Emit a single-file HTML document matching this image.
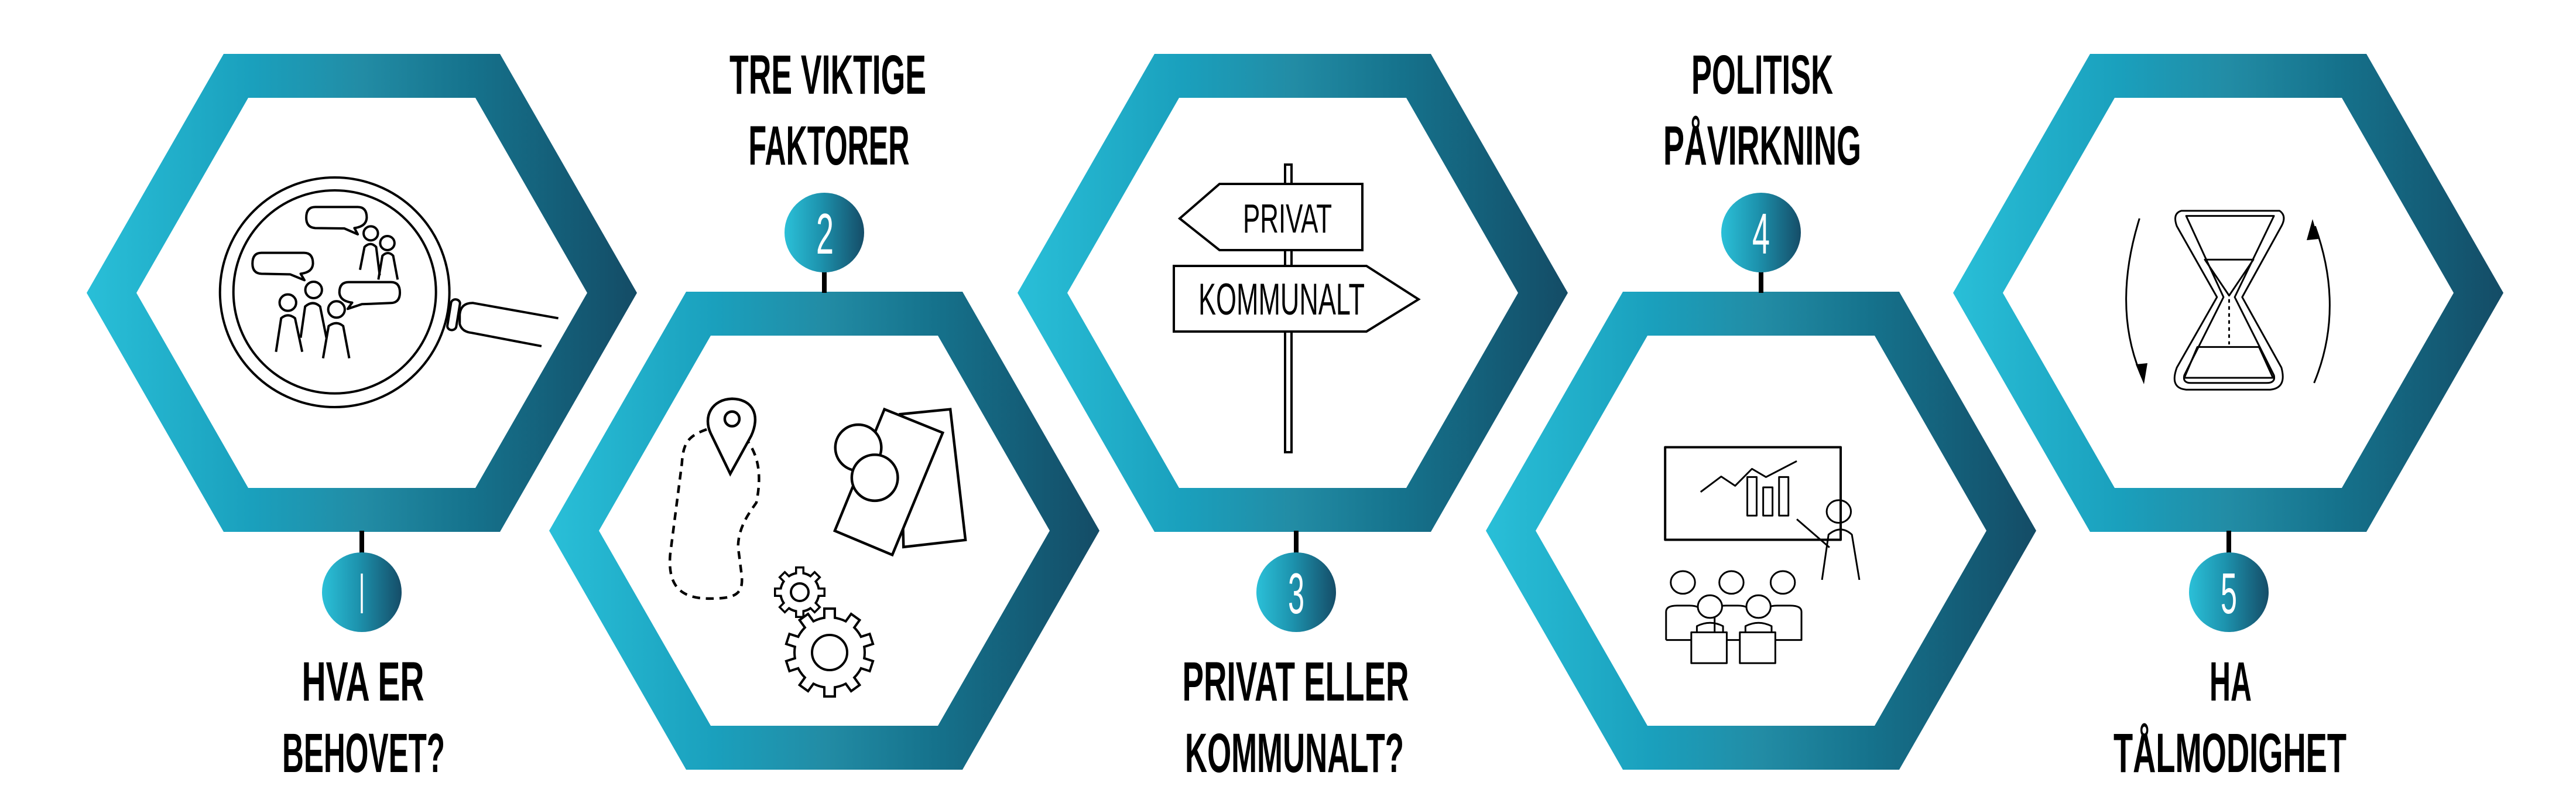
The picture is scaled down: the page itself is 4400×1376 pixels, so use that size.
<!DOCTYPE html>
<html><head><meta charset="utf-8"><style>html,body{margin:0;padding:0;background:#fff}svg{display:block}</style></head>
<body>
<svg width="4400" height="1376" viewBox="0 0 4400 1376" xmlns="http://www.w3.org/2000/svg">
<defs>
<linearGradient id="g" x1="0" y1="0" x2="1" y2="0">
<stop offset="0" stop-color="#29bfd8"/><stop offset="0.3" stop-color="#1aa0bd"/><stop offset="0.5" stop-color="#228ca5"/><stop offset="0.7" stop-color="#15728c"/><stop offset="1" stop-color="#144c66"/>
</linearGradient>
<linearGradient id="gc" x1="0" y1="0" x2="1" y2="0">
<stop offset="0" stop-color="#2bc0d8"/><stop offset="0.45" stop-color="#1d93ae"/><stop offset="1" stop-color="#154d68"/>
</linearGradient>
</defs>
<g fill="url(#g)" fill-rule="evenodd">
<path d="M148,500 L382,92 L854,92 L1088,500 L854,908 L382,908 Z M233,500 L424,167 L812,167 L1003,500 L812,833 L424,833 Z"/>
<path d="M938,906 L1172,498 L1644,498 L1878,906 L1644,1314 L1172,1314 Z M1023,906 L1214,573 L1602,573 L1793,906 L1602,1239 L1214,1239 Z"/>
<path d="M1738,500 L1972,92 L2444,92 L2678,500 L2444,908 L1972,908 Z M1823,500 L2014,167 L2402,167 L2593,500 L2402,833 L2014,833 Z"/>
<path d="M2538,906 L2772,498 L3244,498 L3478,906 L3244,1314 L2772,1314 Z M2623,906 L2814,573 L3202,573 L3393,906 L3202,1239 L2814,1239 Z"/>
<path d="M3336,500 L3570,92 L4042,92 L4276,500 L4042,908 L3570,908 Z M3421,500 L3612,167 L4000,167 L4191,500 L4000,833 L3612,833 Z"/>
</g>
<g stroke="#000" stroke-width="8">
<line x1="618" y1="906" x2="618" y2="945"/><line x1="1408" y1="463" x2="1408" y2="500"/>
<line x1="2214" y1="906" x2="2214" y2="945"/><line x1="3008" y1="463" x2="3008" y2="500"/>
<line x1="3807" y1="906" x2="3807" y2="945"/>
</g>
<g fill="url(#gc)">
<circle cx="618" cy="1011" r="68"/><circle cx="1408" cy="397" r="68"/><circle cx="2214" cy="1011" r="68"/><circle cx="3008" cy="397" r="68"/><circle cx="3807" cy="1011" r="68"/>
</g>
<g fill="#fff" font-family="Liberation Sans, sans-serif" font-size="98" text-anchor="middle">
<text x="618" y="1047" textLength="10" lengthAdjust="spacingAndGlyphs">I</text>
<text x="1409" y="433" textLength="30" lengthAdjust="spacingAndGlyphs">2</text>
<text x="2214" y="1047" textLength="28" lengthAdjust="spacingAndGlyphs">3</text>
<text x="3008" y="433" textLength="30" lengthAdjust="spacingAndGlyphs">4</text>
<text x="3807" y="1047" textLength="28" lengthAdjust="spacingAndGlyphs">5</text>
</g>
<g fill="#000" font-family="Liberation Sans, sans-serif" font-weight="bold" font-size="95" text-anchor="middle">
<text x="1414" y="160" textLength="336" lengthAdjust="spacingAndGlyphs">TRE VIKTIGE</text>
<text x="1416" y="281" textLength="275" lengthAdjust="spacingAndGlyphs">FAKTORER</text>
<text x="620" y="1196" textLength="209" lengthAdjust="spacingAndGlyphs">HVA ER</text>
<text x="621" y="1318" textLength="278" lengthAdjust="spacingAndGlyphs">BEHOVET?</text>
<text x="3010" y="160" textLength="242" lengthAdjust="spacingAndGlyphs">POLITISK</text>
<text x="3010" y="281" textLength="338" lengthAdjust="spacingAndGlyphs">PÅVIRKNING</text>
<text x="2213" y="1196" textLength="387" lengthAdjust="spacingAndGlyphs">PRIVAT ELLER</text>
<text x="2211" y="1318" textLength="374" lengthAdjust="spacingAndGlyphs">KOMMUNALT?</text>
<text x="3810" y="1196" textLength="72" lengthAdjust="spacingAndGlyphs">HA</text>
<text x="3809" y="1318" textLength="398" lengthAdjust="spacingAndGlyphs">TÅLMODIGHET</text>
</g>
<!-- icon 1 -->
<g transform="translate(370,290) scale(0.3827,0.3333)" fill="none" stroke="#000" stroke-linejoin="round" style="stroke-width:4px">
<ellipse cx="527" cy="627" rx="512" ry="588" vector-effect="non-scaling-stroke"/>
<ellipse cx="527" cy="625" rx="452" ry="520" vector-effect="non-scaling-stroke"/>
<path d="M440,190 L630,190 Q670,190 670,245 Q668,290 615,298 L630,330 L570,300 L440,298 Q400,295 400,245 Q400,190 440,190Z" vector-effect="non-scaling-stroke"/>
<path d="M200,425 L390,425 Q430,425 430,480 Q428,525 375,532 L392,565 L328,535 L200,532 Q160,530 160,480 Q160,425 200,425Z" vector-effect="non-scaling-stroke"/>
<path d="M590,575 L778,575 Q818,575 818,628 Q818,680 778,682 L648,688 L585,712 L605,680 Q550,672 548,628 Q548,575 590,575Z" vector-effect="non-scaling-stroke"/>
<ellipse cx="688" cy="325" rx="32" ry="36" vector-effect="non-scaling-stroke"/>
<path d="M640,512 L660,395 Q687,365 712,395 L728,540" vector-effect="non-scaling-stroke"/>
<ellipse cx="762" cy="375" rx="32" ry="36" vector-effect="non-scaling-stroke"/>
<path d="M722,562 L740,440 Q765,412 788,440 L808,562" vector-effect="non-scaling-stroke"/>
<ellipse cx="318" cy="680" rx="37" ry="42" vector-effect="non-scaling-stroke"/>
<path d="M265,932 L288,760 Q318,730 350,760 L382,932" vector-effect="non-scaling-stroke"/>
<ellipse cx="433" cy="615" rx="37" ry="42" vector-effect="non-scaling-stroke"/>
<path d="M375,860 L395,700 Q430,665 462,700 L490,860" vector-effect="non-scaling-stroke"/>
<ellipse cx="535" cy="715" rx="37" ry="42" vector-effect="non-scaling-stroke"/>
<path d="M475,965 L500,800 Q535,770 565,800 L592,965" vector-effect="non-scaling-stroke"/>
<rect x="1038" y="663" width="40" height="158" rx="20" transform="rotate(8 1058 742)" vector-effect="non-scaling-stroke"/>
<path d="M1525,760 L1145,682 Q1090,680 1085,740 L1085,790 Q1095,830 1140,835 L1450,903" vector-effect="non-scaling-stroke"/>
</g>
<!-- icon 2 -->
<g transform="translate(1100,300) scale(0.4464)" fill="none" stroke="#000" stroke-width="10">
<path d="M240,970 C170,995 150,1020 145,1100 L100,1450 C90,1580 150,1620 264,1617 C350,1615 380,1600 374,1530 L360,1420 C360,1340 410,1280 430,1250 C450,1150 440,1080 400,1020" stroke-dasharray="30,22"/>
<path d="M330,1140 L255,985 C225,920 260,855 337,853 C420,855 445,920 410,995 Z" fill="#fff"/>
<circle cx="337" cy="930" r="28"/>
<polygon points="980,912 1172,893 1230,1393 993,1420" fill="#fff"/>
<polygon points="920,893 1143,983 950,1450 730,1358" fill="#fff"/>
<circle cx="820" cy="1040" r="88" fill="#fff"/>
<circle cx="883" cy="1155" r="88" fill="#fff"/>
</g>
<!-- gears -->
<g transform="translate(1366,1011)">
<g fill="#000"><circle r="35"/>
<rect x="-8" y="-44" width="16" height="14"/><rect x="-8" y="-44" width="16" height="14" transform="rotate(45)"/><rect x="-8" y="-44" width="16" height="14" transform="rotate(90)"/><rect x="-8" y="-44" width="16" height="14" transform="rotate(135)"/><rect x="-8" y="-44" width="16" height="14" transform="rotate(180)"/><rect x="-8" y="-44" width="16" height="14" transform="rotate(225)"/><rect x="-8" y="-44" width="16" height="14" transform="rotate(270)"/><rect x="-8" y="-44" width="16" height="14" transform="rotate(315)"/></g>
<g fill="#fff"><circle r="31"/>
<rect x="-4.5" y="-40.5" width="9" height="12"/><rect x="-4.5" y="-40.5" width="9" height="12" transform="rotate(45)"/><rect x="-4.5" y="-40.5" width="9" height="12" transform="rotate(90)"/><rect x="-4.5" y="-40.5" width="9" height="12" transform="rotate(135)"/><rect x="-4.5" y="-40.5" width="9" height="12" transform="rotate(180)"/><rect x="-4.5" y="-40.5" width="9" height="12" transform="rotate(225)"/><rect x="-4.5" y="-40.5" width="9" height="12" transform="rotate(270)"/><rect x="-4.5" y="-40.5" width="9" height="12" transform="rotate(315)"/></g>
<circle r="15" fill="none" stroke="#000" stroke-width="4"/>
</g>
<g transform="translate(1417,1114)">
<g fill="#000"><circle r="62"/>
<rect x="-11" y="-77" width="22" height="20"/><rect x="-11" y="-77" width="22" height="20" transform="rotate(36)"/><rect x="-11" y="-77" width="22" height="20" transform="rotate(72)"/><rect x="-11" y="-77" width="22" height="20" transform="rotate(108)"/><rect x="-11" y="-77" width="22" height="20" transform="rotate(144)"/><rect x="-11" y="-77" width="22" height="20" transform="rotate(180)"/><rect x="-11" y="-77" width="22" height="20" transform="rotate(216)"/><rect x="-11" y="-77" width="22" height="20" transform="rotate(252)"/><rect x="-11" y="-77" width="22" height="20" transform="rotate(288)"/><rect x="-11" y="-77" width="22" height="20" transform="rotate(324)"/></g>
<g fill="#fff"><circle r="58"/>
<rect x="-7" y="-73" width="14" height="18"/><rect x="-7" y="-73" width="14" height="18" transform="rotate(36)"/><rect x="-7" y="-73" width="14" height="18" transform="rotate(72)"/><rect x="-7" y="-73" width="14" height="18" transform="rotate(108)"/><rect x="-7" y="-73" width="14" height="18" transform="rotate(144)"/><rect x="-7" y="-73" width="14" height="18" transform="rotate(180)"/><rect x="-7" y="-73" width="14" height="18" transform="rotate(216)"/><rect x="-7" y="-73" width="14" height="18" transform="rotate(252)"/><rect x="-7" y="-73" width="14" height="18" transform="rotate(288)"/><rect x="-7" y="-73" width="14" height="18" transform="rotate(324)"/></g>
<circle r="30" fill="none" stroke="#000" stroke-width="4"/>
</g>
<!-- icon 3 -->
<g fill="#fff" stroke="#000" stroke-width="4">
<rect x="2195" y="281" width="11" height="491"/>
<polygon points="2015,373 2083,314 2327,314 2327,427 2083,427"/>
<polygon points="2005,454 2334,454 2423,511 2334,566 2005,566"/>
</g>
<g font-family="Liberation Sans, sans-serif" fill="#000" text-anchor="middle">
<text x="2199" y="397" font-size="70" textLength="152" lengthAdjust="spacingAndGlyphs">PRIVAT</text>
<text x="2189" y="537" font-size="76" textLength="284" lengthAdjust="spacingAndGlyphs">KOMMUNALT</text>
</g>
<!-- icon 4 & 5 -->
<g transform="translate(1900,0) scale(1.5949,0.8776)" fill="none" stroke="#000" stroke-linejoin="round" style="stroke-width:3px">
<rect x="592" y="870" width="188" height="180" vector-effect="non-scaling-stroke" style="stroke-width:4px"/>
<path d="M630,957 L652,927 L667,945 L685,912 L700,928 L733,897" vector-effect="non-scaling-stroke"/>
<rect x="680" y="928" width="10" height="75" vector-effect="non-scaling-stroke"/>
<rect x="697" y="948" width="10" height="55" vector-effect="non-scaling-stroke"/>
<rect x="714" y="928" width="10" height="75" vector-effect="non-scaling-stroke"/>
<path d="M733,1010 L768,1065" vector-effect="non-scaling-stroke"/>
<ellipse cx="778" cy="995" rx="13" ry="22" vector-effect="non-scaling-stroke"/>
<path d="M760,1128 L767,1040 Q780,1020 792,1040 L800,1128" vector-effect="non-scaling-stroke"/>
<path d="M593,1245 L593,1190 Q593,1178 605,1178 L618,1178 Q630,1178 630,1190 M645,1245 L645,1190 Q645,1178 657,1178 L670,1178 Q682,1178 682,1190 M700,1190 Q700,1178 712,1178 L726,1178 Q738,1178 738,1190 L738,1245 L593,1245" fill="#fff" vector-effect="non-scaling-stroke"/>
<ellipse cx="611" cy="1133" rx="13" ry="22" vector-effect="non-scaling-stroke"/>
<ellipse cx="663" cy="1133" rx="13" ry="22" vector-effect="non-scaling-stroke"/>
<ellipse cx="718" cy="1133" rx="13" ry="22" vector-effect="non-scaling-stroke"/>
<ellipse cx="640" cy="1180" rx="13" ry="22" fill="#fff" vector-effect="non-scaling-stroke"/>
<ellipse cx="692" cy="1180" rx="13" ry="22" fill="#fff" vector-effect="non-scaling-stroke"/>
<path d="M626,1230 L626,1218 Q640,1205 654,1218 L654,1230 M678,1230 L678,1218 Q692,1205 706,1218 L706,1230" vector-effect="non-scaling-stroke"/>
<rect x="620" y="1230" width="38" height="60" fill="#fff" vector-effect="non-scaling-stroke"/>
<rect x="672" y="1230" width="38" height="60" fill="#fff" vector-effect="non-scaling-stroke"/>
<path d="M1145,410 L1250,410 Q1258,420 1252,440 L1210,578 L1252,715 Q1258,755 1240,758 L1150,758 Q1132,755 1140,715 L1183,578 L1140,440 Q1135,415 1145,410Z" vector-effect="non-scaling-stroke"/>
<path d="M1150,420 L1244,420 L1202,578 L1244,730 Q1246,745 1236,745 L1155,745 Q1146,745 1148,730 L1190,578 Z" vector-effect="non-scaling-stroke"/>
<path d="M1170,505 L1222,505 L1196,575Z" vector-effect="non-scaling-stroke"/>
<path d="M1162,675 L1228,675 L1243,735 L1148,735Z" vector-effect="non-scaling-stroke"/>
<path d="M1196,582 L1196,670" stroke-dasharray="6,6" vector-effect="non-scaling-stroke"/>
<path d="M1100,425 Q1070,600 1103,735" vector-effect="non-scaling-stroke"/>
<path d="M1287,745 Q1320,600 1288,440" vector-effect="non-scaling-stroke"/>
</g>
<polygon points="3648,622 3668,620 3662,656" fill="#000"/>
<polygon points="3940,410 3960,408 3950,374" fill="#000"/>
</svg>
</body></html>
